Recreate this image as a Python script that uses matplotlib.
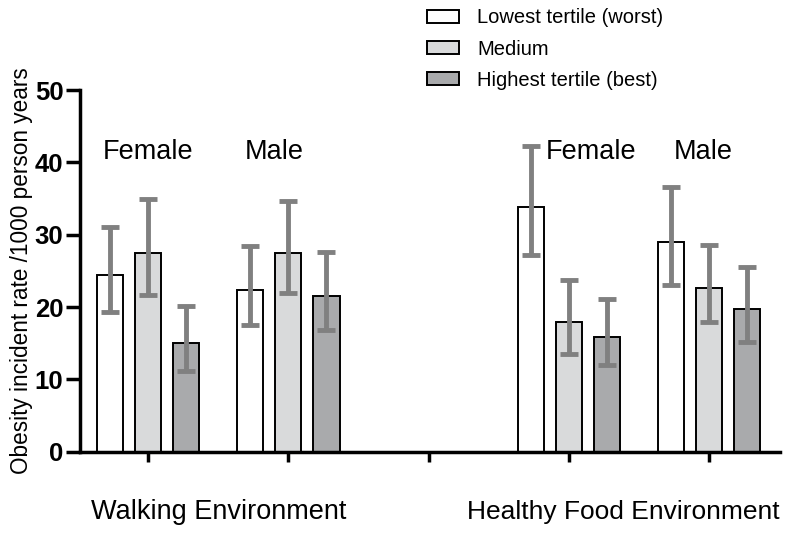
import matplotlib as mpl
mpl.use('Agg')
import matplotlib.pyplot as plt
import numpy as np

plt.rcParams['font.family'] = ['Liberation Sans', 'DejaVu Sans']

# groups: walking female, walking male, (gap), food female, food male
positions = [0, 1, 3, 4]
series = ["Lowest tertile (worst)", "Medium", "Highest tertile (best)"]
colors = ["#ffffff", "#d9dadb", "#a9aaac"]

rates = [
    [24.4, 22.3, 33.8, 29.0],
    [27.5, 27.5, 17.9, 22.6],
    [15.0, 21.6, 15.9, 19.7],
]
ci_low = [
    [19.3, 17.5, 27.2, 23.1],
    [21.7, 21.9, 13.5, 17.9],
    [11.2, 16.8, 12.0, 15.2],
]
ci_high = [
    [31.1, 28.5, 42.2, 36.6],
    [34.9, 34.6, 23.7, 28.6],
    [20.1, 27.6, 21.1, 25.6],
]

fig = plt.figure(figsize=(8, 5.36), dpi=100)
ax = fig.add_axes([0.1, 0.157, 0.875, 0.675])

width = 0.186
offs = [-0.272, 0, 0.272]
handles = []
for i in range(3):
    x = np.array(positions) + offs[i]
    v = np.array(rates[i])
    err = [v - np.array(ci_low[i]), np.array(ci_high[i]) - v]
    b = ax.bar(x, v, width, color=colors[i], edgecolor='black', linewidth=1.4, zorder=2)
    ax.errorbar(x, v, yerr=err, fmt='none', ecolor='#808080', elinewidth=3.5,
                capsize=6.5, capthick=3.5, zorder=3)
    handles.append(b)

ax.set_xlim(-0.486, 4.507)
ax.set_ylim(0, 50)
ax.set_xticks([0, 1, 2, 3, 4])
ax.set_xticklabels([])
ax.set_yticks([0, 10, 20, 30, 40, 50])
for lab in ax.get_yticklabels():
    lab.set_fontweight('bold')
    lab.set_fontsize(18.5)
ax.tick_params(axis='y', length=10, width=2.5, pad=2)
ax.tick_params(axis='x', length=7, width=2.5)
for s in ['top', 'right']:
    ax.spines[s].set_visible(False)
for s in ['left', 'bottom']:
    ax.spines[s].set_linewidth(2.5)
ax.set_ylabel("Obesity incident rate /1000 person years", fontsize=16.3, labelpad=1)

for xt, t in [(0, "Female"), (0.9, "Male"), (3.157, "Female"), (3.957, "Male")]:
    ax.text(xt, 41.5, t, ha='center', va='center', fontsize=19.5)

tr = mpl.transforms.blended_transform_factory(ax.transData, fig.transFigure)
ax.text(0.5, 1 - 512 / 536, "Walking Environment", ha='center', va='center',
        fontsize=19.5, transform=tr)
ax.text(3.39, 1 - 512 / 536, "Healthy Food Environment", ha='center', va='center',
        fontsize=19, transform=tr)

fig.legend(handles, series, loc='upper left', bbox_to_anchor=(0.511, 1.018),
           frameon=False, fontsize=14.5, handlelength=1.6, handleheight=0.6,
           labelspacing=0.6, handletextpad=0.9)

fig.savefig('out.png', dpi=100)
